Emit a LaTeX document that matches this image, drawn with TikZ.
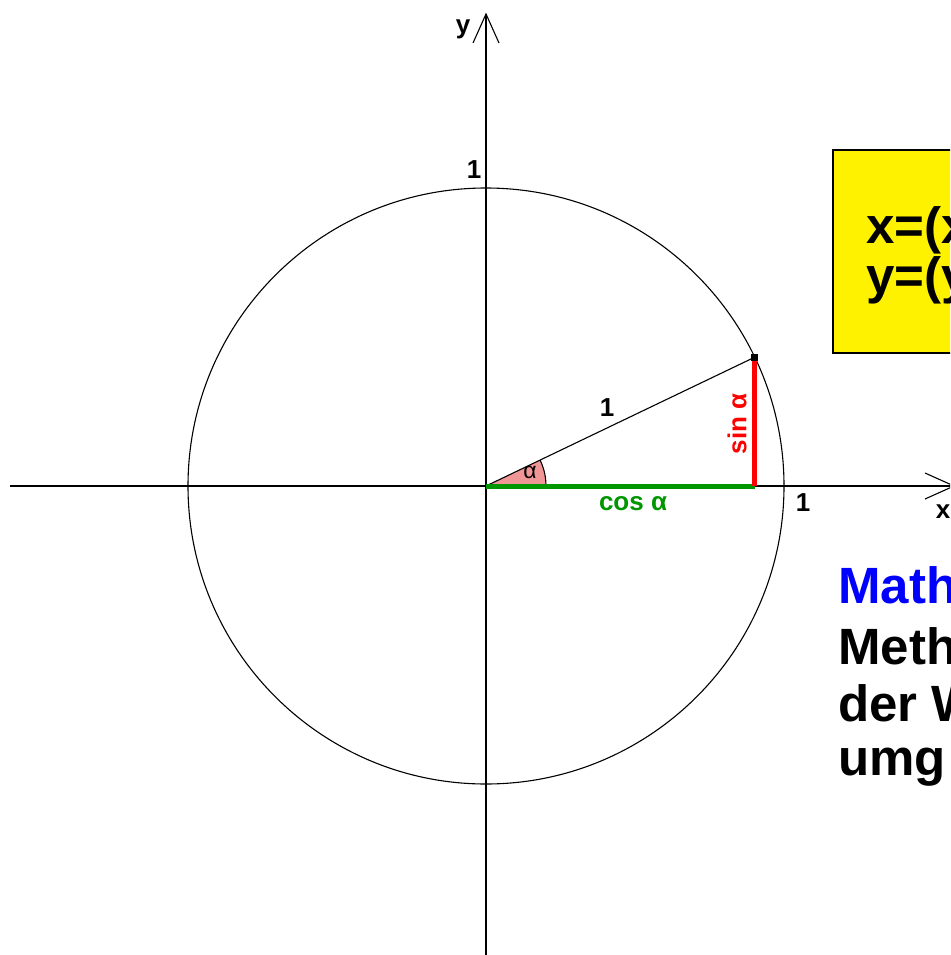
\documentclass[tikz,border=0pt]{standalone}
\usepackage{fontspec}
\setmainfont{Liberation Sans}
\definecolor{wedgepink}{RGB}{240,150,150}
\definecolor{cosgreen}{RGB}{0,150,0}
\definecolor{mathblue}{RGB}{0,0,255}
\tikzset{
  axisline/.style={black, line width=1.3pt},
  thinline/.style={black, line width=1.1pt},
  lbl/.style={font=\fontsize{26}{28}\selectfont\bfseries, inner sep=0pt},
  bigtext/.style={font=\fontsize{51}{54}\selectfont\bfseries, inner sep=0pt, anchor=base west},
}
\begin{document}
\begin{tikzpicture}[x=1pt,y=-1pt]
\useasboundingbox (0,0) rectangle (950,955);
\clip (0,0) rectangle (950,955);
\fill[white] (0,0) rectangle (950,955);
\coordinate (O) at (486,486);
\coordinate (P) at (754.7,357.2);
\coordinate (C) at (754.7,486);
% wedge
\fill[wedgepink] (O) -- ++(60,0) arc[start angle=0,end angle=-25.6,radius=60] -- cycle;
\draw[thinline] (O) ++(60,0) arc[start angle=0,end angle=-25.6,radius=60];
% circle
\draw[thinline] (O) circle[radius=298];
% axes
\coordinate (xs) at (10,486);
\coordinate (xe) at (954,486);
\coordinate (xw1) at (925,473);
\coordinate (xw2) at (925,499);
\coordinate (ys) at (486,955);
\coordinate (ye) at (486,14);
\coordinate (yw1) at (473,43);
\coordinate (yw2) at (499,43);
\draw[axisline] (xs) -- (xe);
\draw[axisline] (ys) -- (ye);
\draw[thinline] (xw1) -- (xe) -- (xw2);
\draw[thinline] (yw1) -- (ye) -- (yw2);
% radius
\draw[thinline] (O) -- (P);
% cos and sin
\draw[cosgreen, line width=5pt] (O) -- (C);
\draw[red, line width=5pt] (C) -- (P);
\fill[black] (P) ++(-3.5,-3.5) rectangle ++(7,7);
% labels
\node[lbl] (ylab) at (463,29) {y};
\node[lbl] (xlab) at (943,512) {x};
\node[lbl] (one1) at (474,170) {1};
\node[lbl] (one2) at (803,503) {1};
\node[lbl] (one3) at (607,408) {1};
\node[lbl, text=cosgreen] (cosl) at (633,504) {cos α};
\node[lbl, text=red, rotate=90] (sinl) at (737,424) {sin α};
\node[inner sep=0pt, font=\fontsize{23}{24}\selectfont] (alab) at (530,472) {α};
% yellow box
\node[draw=black, fill=yellow, line width=2.2pt, anchor=north west, minimum width=200pt, minimum height=203pt, inner sep=0pt] (box) at (832,149) {};
\node[bigtext] (bx) at (866,243) {x=(x};
\node[bigtext] (by) at (866,293) {y=(y};
% bottom text
\node[bigtext, text=mathblue] (t1) at (838,603) {Math};
\node[bigtext] (t2) at (838,664) {Meth};
\node[bigtext] (t3) at (838,721) {der W};
\node[bigtext] (t4) at (838,775) {umg};
\end{tikzpicture}
\end{document}
